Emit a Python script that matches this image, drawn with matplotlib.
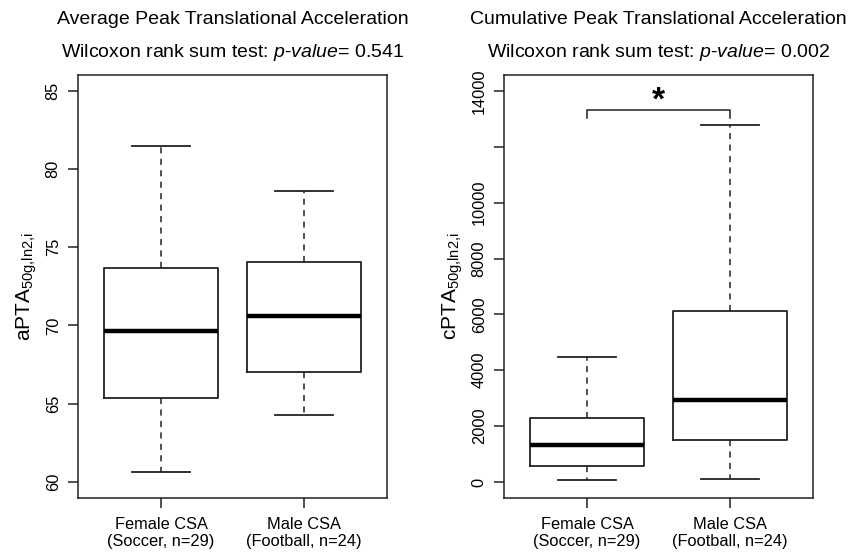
import matplotlib
matplotlib.use('Agg')
import matplotlib.pyplot as plt

plt.rcParams['font.family'] = ['Liberation Sans', 'DejaVu Sans']
plt.rcParams['mathtext.fontset'] = 'custom'
plt.rcParams['mathtext.rm'] = 'Liberation Sans'
plt.rcParams['mathtext.it'] = 'Liberation Sans:italic'

INK = '#222222'

groups = ['Female CSA\n(Soccer, n=29)', 'Male CSA\n(Football, n=24)']

# five-number summaries: low whisker, Q1, median, Q3, high whisker
apta_female = [60.66, 65.38, 69.63, 73.65, 81.45]
apta_male = [64.25, 67.03, 70.60, 74.06, 78.60]
cpta_female = [72, 584, 1336, 2280, 4465]
cpta_male = [118, 1515, 2925, 6133, 12782]

titles = ['Average Peak Translational Acceleration', 'Cumulative Peak Translational Acceleration']
p_values = ['0.541', '0.002']
ylabels = [r'aPTA$_{\mathregular{50g{,}ln2{,}i}}$', r'cPTA$_{\mathregular{50g{,}ln2{,}i}}$']
yticks_a = [60, 65, 70, 75, 80, 85]
yticks_c = [0, 2000, 4000, 6000, 8000, 10000, 12000, 14000]
ytick_labels_c = ['0', '2000', '4000', '6000', '8000', '10000', '', '14000']
bracket_y = 13320
bracket_drop = 300


def to_stats(summary):
    lo, q1, med, q3, hi = summary
    return dict(whislo=lo, q1=q1, med=med, q3=q3, whishi=hi, fliers=[])


def draw_panel(ax, data, title, pval, ylabel, ylim, yticks, ytick_labels):
    ax.bxp([to_stats(d) for d in data], positions=[1, 2], widths=0.8, capwidths=0.4,
           boxprops=dict(color=INK, linewidth=1.3),
           medianprops=dict(color='black', linewidth=3.2),
           whiskerprops=dict(color=INK, linewidth=1.1, linestyle=(0, (4, 3.5))),
           capprops=dict(color=INK, linewidth=1.3))
    ax.set_xlim(0.42, 2.58)
    ax.set_ylim(*ylim)
    ax.set_xticks([1, 2])
    ax.set_xticklabels(groups, fontsize=11.8, color='black')
    ax.set_yticks(yticks)
    ax.set_yticklabels(ytick_labels, fontsize=11.8, rotation=90, va='center')
    ax.tick_params(axis='both', length=7.5, width=1.1, color=INK, direction='out')
    ax.tick_params(axis='x', pad=6)
    ax.tick_params(axis='y', pad=5)
    for s in ax.spines.values():
        s.set_color(INK)
        s.set_linewidth(1.1)
    ax.set_ylabel(ylabel, fontsize=15, labelpad=5)
    ax.text(0.5, 1.132, title, transform=ax.transAxes, ha='center', va='center', fontsize=14)
    ax.text(0.5, 1.054, r'Wilcoxon rank sum test: $\mathit{p}$-$\mathit{value}$= ' + pval,
            transform=ax.transAxes, ha='center', va='center', fontsize=14)


fig = plt.figure(figsize=(8.62, 5.53), dpi=100)
ax1 = fig.add_axes([0.0905, 0.0995, 0.3585, 0.765])
ax2 = fig.add_axes([0.5847, 0.0995, 0.3585, 0.765])

draw_panel(ax1, [apta_female, apta_male], titles[0], p_values[0], ylabels[0],
           (58.97, 86.0), yticks_a, [str(t) for t in yticks_a])
draw_panel(ax2, [cpta_female, cpta_male], titles[1], p_values[1], ylabels[1],
           (-573, 14573), yticks_c, ytick_labels_c)

# significance bracket between the two groups
ax2.plot([1, 1, 2, 2], [bracket_y - bracket_drop, bracket_y, bracket_y, bracket_y - bracket_drop],
         color=INK, linewidth=1.1)
ax2.text(1.5, bracket_y, '*', ha='center', va='baseline', fontsize=24, fontweight='bold')

fig.savefig('out.png', dpi=100)
